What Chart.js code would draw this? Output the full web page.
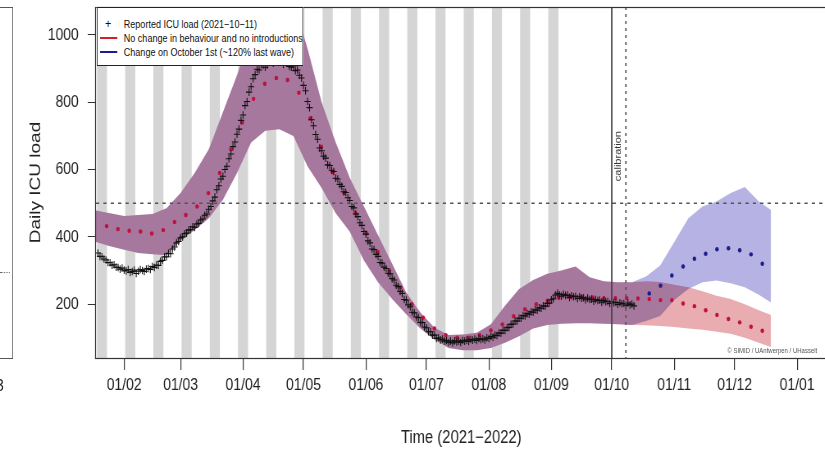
<!DOCTYPE html>
<html>
<head>
<meta charset="utf-8">
<script src="https://cdn.jsdelivr.net/npm/chart.js@4.4.0/dist/chart.umd.min.js"></script>
<style>
  html, body { margin: 0; padding: 0; background: #fff; overflow: hidden; }
  /* the source picture is squeezed sideways, so the whole page is drawn wide and squeezed */
  #wrap { position: relative; width: 1050px; height: 456px; transform: scaleX(0.82); transform-origin: 0 0; }
  #legend { position: absolute; left: 118px; top: 7px; width: 250px; height: 57px; background: #fff;
            border: 1px solid #222; font: 11px 'Liberation Sans', Arial, sans-serif; color: #111; }
  #legend .row { position: absolute; left: 32px; height: 14px; line-height: 14px; white-space: nowrap; }
  #legend .mk { position: absolute; left: -29px; width: 21px; height: 2px; top: 6px; }
  #legend .plus { position: absolute; left: -23px; top: -1px; color: #111; font: 13px 'Liberation Sans', Arial, sans-serif; }
  #copy { position: absolute; left: 887px; top: 346px; font: 7.3px 'Liberation Sans', Arial, sans-serif; color: #555; white-space: nowrap; }
  #leftpanel { position: absolute; left: -12px; top: 7px; width: 26px; height: 350px; border: 1px solid #555; }
</style>
</head>
<body>
<div id="wrap">
  <canvas id="stage" width="1050" height="456"></canvas>
  <div id="leftpanel"></div>
  <div style="position:absolute;left:0;top:272px;width:12px;border-top:1px dotted #666;"></div>
  <div style="position:absolute;left:-38px;top:376px;font:17px 'Liberation Sans',Arial;color:#222;">01/03</div>
  <div id="legend">
    <div class="row" style="top:9px"><span class="plus">+</span>Reported ICU load (2021−10−11)</div>
    <div class="row" style="top:23px"><span class="mk" style="background:#d0202a"></span>No change in behaviour and no introductions</div>
    <div class="row" style="top:37px"><span class="mk" style="background:#1a1a9a"></span>Change on October 1st (~120% last wave)</div>
  </div>
  <div id="copy">© SIMID / UAntwerpen / UHasselt</div>
</div>
<script>
// days are counted from 1 Feb 2021 (day 0)

// x axis ticks
var tickDays = [0, 28, 59, 89, 120, 150, 181, 212, 242, 273, 303, 334];
var tickLabels = ['01/02','01/03','01/04','01/05','01/06','01/07','01/08','01/09','01/10','01/11','01/12','01/01'];
var yTicks = [200, 400, 600, 800, 1000];

// grey bands
var stripeStart = [-13.5, 0.5, 14.5, 28.5, 42.5, 56.5, 70.5, 84.5, 98.5, 112.5, 126.5, 140.5, 154.5, 168.5, 182.5, 196.5, 210.5];
var stripeEnd   = [-8.5, 5.5, 19.5, 33.5, 47.5, 61.5, 75.5, 89.5, 103.5, 117.5, 131.5, 145.5, 159.5, 173.5, 187.5, 201.5, 215.5];

// reported ICU load, daily from day -13 (18 Jan) to day 253 (11 Oct)
var obsStartDay = -13;
var obsLoad = [
  352,342,341,334,331,324,323,316,317,310,
  309,304,307,301,299,303,294,297,301,291,
  298,303,300,297,304,306,303,312,309,316,
  315,327,330,340,341,351,350,364,370,382,
  386,397,400,409,411,420,422,430,428,438,
  440,450,453,464,468,482,490,507,518,540,
  552,572,580,600,610,632,646,668,682,705,
  720,746,762,790,802,830,846,870,882,898,
  896,912,910,904,910,920,924,916,922,930,
  928,920,912,926,916,906,904,908,894,896,
  880,872,850,834,802,784,748,730,704,690,
  664,656,640,634,614,612,598,594,574,572,
  556,550,534,532,516,508,490,486,468,460,
  442,434,416,408,388,382,364,362,348,342,
  324,322,310,306,292,290,276,272,256,252,
  238,232,214,212,198,192,176,174,162,160,
  146,145,132,130,118,118,108,108,98,100,
  94,96,90,92,86,90,85,91,88,90,
  86,92,90,93,89,95,93,96,92,98,
  95,97,94,100,98,104,102,108,107,114,
  114,122,122,130,131,140,141,150,150,158,
  158,166,165,172,170,177,176,183,182,189,
  188,195,194,202,203,213,216,227,232,228,
  224,229,226,227,220,225,222,223,217,222,
  218,219,213,218,214,215,209,214,211,212,
  206,211,207,208,202,207,204,205,199,204,
  201,202,197,203,198,200,195];

// model median (dots)
var modelDays = [-8.7,-3.1,2.5,8.1,13.7,19.4,25,30.6,36.2,41.8,47.4,53,58.6,64.2,69.8,75.5,81.1,86.7,92.3,97.9,
  103.5,109.1,114.7,120.3,125.9,131.6,137.2,142.8,148.4,154,159.6,165.2,170.8,176.4,182,187.7,193.3,198.9,204.5,210.1,
  215.7,221.3,226.9,232.5,238.1,243.8,249.4,255,260.6,266.2,271.8,277.4,283,288.6,294.2,299.9,305.5,311.1,316.7];
var redMedian = [432,423,418,416,410,420,444,465,490,530,590,660,740,810,855,872,866,828,752,668,
  592,530,470,410,355,300,250,200,160,128,108,100,100,108,122,140,164,185,200,210,
  218,222,222,220,218,218,218,217,215,212,212,202,194,182,168,156,146,133,121];
var blueDays = [260.6,266.2,271.8,277.4,283,288.6,294.2,299.9,305.5,311.1,316.7];
var blueMedian = [232,255,285,312,335,350,363,366,360,348,320];

// credible bands
var bandDays = [-14,-7,0,7,14,21,28,35,42,49,56,63,70,77,84,91,98,105,112,119,126,133,140,147,154,161,168,175,182,189,
  196,203,210,217,224,231,238,245,252,259,266,273,280,287,294,301,308,315,321];
var redLower = [385,372,362,352,348,345,390,420,455,510,590,680,715,720,700,610,545,470,415,330,265,215,170,128,95,70,63,63,70,85,
  105,128,138,142,143,143,142,140,138,137,135,132,128,124,118,112,100,85,73];
var redUpper = [478,470,462,465,468,485,530,590,660,770,880,1000,1090,1100,1100,960,800,680,575,490,405,320,235,175,130,108,110,115,140,195,
  245,272,290,300,312,280,268,265,265,268,266,258,250,238,225,215,200,182,168];
var blueLower = [385,372,362,352,348,345,390,420,455,510,590,680,715,720,700,610,545,470,415,330,265,215,170,128,95,70,63,63,70,85,
  105,128,138,142,143,143,142,140,138,150,165,212,245,265,270,262,250,228,205];
var blueUpper = [478,470,462,465,468,485,530,590,660,770,880,1000,1090,1100,1100,960,800,680,575,490,405,320,235,175,130,108,110,115,140,195,
  245,272,290,300,312,280,268,265,265,282,315,385,455,490,505,530,548,505,480];

var level500 = 500;
var changeDay = 242;
var calibDay = 249;

function pts(xs, ys) {
  return ys.map(function(v, i) { return {x: xs[i], y: v}; });
}
var obsPoints = obsLoad.map(function(v, i) { return {x: obsStartDay + i, y: v}; });
// outline of both bands together (white underlay so the stripes do not show through)
var unionLower = redLower.map(function(v, i) { return Math.min(v, blueLower[i]); });
var unionUpper = redUpper.map(function(v, i) { return Math.max(v, blueUpper[i]); });

var font = "'Liberation Sans', Arial, sans-serif";

var decoPlugin = {
  id: 'deco',
  beforeDatasetsDraw: function(chart) {
    var ctx = chart.ctx, a = chart.chartArea, x = chart.scales.x;
    ctx.save();
    ctx.beginPath(); ctx.rect(a.left, a.top, a.right - a.left, a.bottom - a.top); ctx.clip();
    ctx.fillStyle = '#d5d5d5';
    for (var i = 0; i < stripeStart.length; i++) {
      var x0 = x.getPixelForValue(stripeStart[i]);
      var x1 = x.getPixelForValue(stripeEnd[i]);
      ctx.fillRect(x0, a.top, x1 - x0, a.bottom - a.top);
    }
    ctx.restore();
  },
  afterDatasetDraw: function(chart, args) {
    // bands overlap like transparent inks
    if (args.index === 8) chart.ctx.globalCompositeOperation = 'multiply';
    if (args.index === 1) chart.ctx.globalCompositeOperation = 'source-over';
  },
  afterDatasetsDraw: function(chart) {
    var ctx = chart.ctx, a = chart.chartArea, x = chart.scales.x, y = chart.scales.y;
    ctx.save();
    ctx.globalCompositeOperation = 'source-over';
    // horizontal dotted line at 500
    ctx.strokeStyle = '#555';
    ctx.lineWidth = 1.5;
    ctx.setLineDash([4, 5]);
    var yy = y.getPixelForValue(level500);
    ctx.beginPath(); ctx.moveTo(a.left, yy); ctx.lineTo(a.right, yy); ctx.stroke();
    // calibration line
    ctx.lineWidth = 1.7;
    ctx.setLineDash([3, 4]);
    var xc = x.getPixelForValue(calibDay);
    ctx.beginPath(); ctx.moveTo(xc, a.top); ctx.lineTo(xc, a.bottom); ctx.stroke();
    // change line
    ctx.setLineDash([]);
    ctx.strokeStyle = '#444';
    ctx.lineWidth = 1.8;
    var xs = x.getPixelForValue(changeDay);
    ctx.beginPath(); ctx.moveTo(xs, a.top); ctx.lineTo(xs, a.bottom); ctx.stroke();
    // calibration label
    ctx.translate(xc - 4, y.getPixelForValue(640));
    ctx.rotate(-Math.PI / 2);
    ctx.fillStyle = '#333';
    ctx.font = "11px " + font;
    ctx.textAlign = 'center';
    ctx.textBaseline = 'bottom';
    ctx.fillText('calibration', 0, 0);
    ctx.restore();
  },
  afterDraw: function(chart) {
    var ctx = chart.ctx, a = chart.chartArea;
    ctx.save();
    ctx.strokeStyle = '#333';
    ctx.lineWidth = 1.2;
    ctx.strokeRect(a.left - 0.5, a.top + 0.5, a.right - a.left, a.bottom - a.top);
    ctx.restore();
  }
};

var noLine = 'rgba(0,0,0,0)';

var chart = new Chart(document.getElementById('stage'), {
  type: 'line',
  data: {
    datasets: [
      { label: 'red lower', data: pts(bandDays, redLower), pointRadius: 0, borderColor: noLine, fill: false, order: 9 },
      { label: 'red upper', data: pts(bandDays, redUpper), pointRadius: 0, borderColor: noLine, fill: '-1',
        backgroundColor: 'rgb(233,172,176)', order: 9 },
      { label: 'blue lower', data: pts(bandDays, blueLower), pointRadius: 0, borderColor: noLine, fill: false, order: 10 },
      { label: 'blue upper', data: pts(bandDays, blueUpper), pointRadius: 0, borderColor: noLine, fill: '-1',
        backgroundColor: 'rgb(183,178,228)', order: 10 },
      { label: 'No change in behaviour and no introductions', data: pts(modelDays, redMedian), showLine: false,
        pointStyle: 'circle', pointRadius: 2.2, pointBorderWidth: 0, pointBackgroundColor: '#c0103c', order: 2 },
      { label: 'Change on October 1st (~120% last wave)', data: pts(blueDays, blueMedian), showLine: false,
        pointStyle: 'circle', pointRadius: 2.2, pointBorderWidth: 0, pointBackgroundColor: '#1c1c8c', order: 2 },
      { label: 'Reported ICU load (2021-10-11)', data: obsPoints, showLine: false,
        pointStyle: 'cross', pointRadius: 3.8, borderColor: '#111', pointBorderWidth: 1.1, order: 1 },
      { label: 'band outline lower', data: pts(bandDays, unionLower), pointRadius: 0, borderColor: noLine, fill: false, order: 11 },
      { label: 'band outline upper', data: pts(bandDays, unionUpper), pointRadius: 0, borderColor: noLine, fill: '-1',
        backgroundColor: '#ffffff', order: 11 }
    ]
  },
  options: {
    responsive: false,
    animation: false,
    devicePixelRatio: 1,
    layout: { padding: { left: 0, right: 42, top: 7, bottom: 0 } },
    plugins: { legend: { display: false }, tooltip: { enabled: false } },
    scales: {
      x: {
        type: 'linear', min: -14, max: 348.6,
        afterBuildTicks: function(s) { s.ticks = tickDays.map(function(d) { return {value: d}; }); },
        afterFit: function(s) { s.height = 98; s.paddingLeft = 0; s.paddingRight = 0; },
        ticks: {
          autoSkip: false, maxRotation: 0, padding: 5, color: '#222',
          font: { family: font, size: 17 },
          callback: function(v) { return tickLabels[tickDays.indexOf(v)]; }
        },
        grid: { drawOnChartArea: false, drawTicks: true, tickLength: 12, color: '#333', lineWidth: 1.2 },
        border: { display: false },
        title: { display: true, text: 'Time (2021−2022)', color: '#222',
                 font: { family: font, size: 18 }, padding: { top: 4, bottom: 7 } }
      },
      y: {
        min: 40, max: 1083,
        afterBuildTicks: function(s) { s.ticks = yTicks.map(function(v) { return {value: v}; }); },
        afterFit: function(s) { s.width = 117; s.paddingTop = 0; s.paddingBottom = 0; },
        ticks: { padding: 11, color: '#222', font: { family: font, size: 17 },
                 callback: function(v) { return String(v); } },
        grid: { drawOnChartArea: false, drawTicks: true, tickLength: 10, color: '#333' },
        border: { display: false },
        title: { display: true, text: 'Daily ICU load', color: '#222',
                 font: { family: font, size: 19 }, padding: { top: 32, bottom: 0 } }
      }
    }
  },
  plugins: [decoPlugin]
});
</script>
</body>
</html>
